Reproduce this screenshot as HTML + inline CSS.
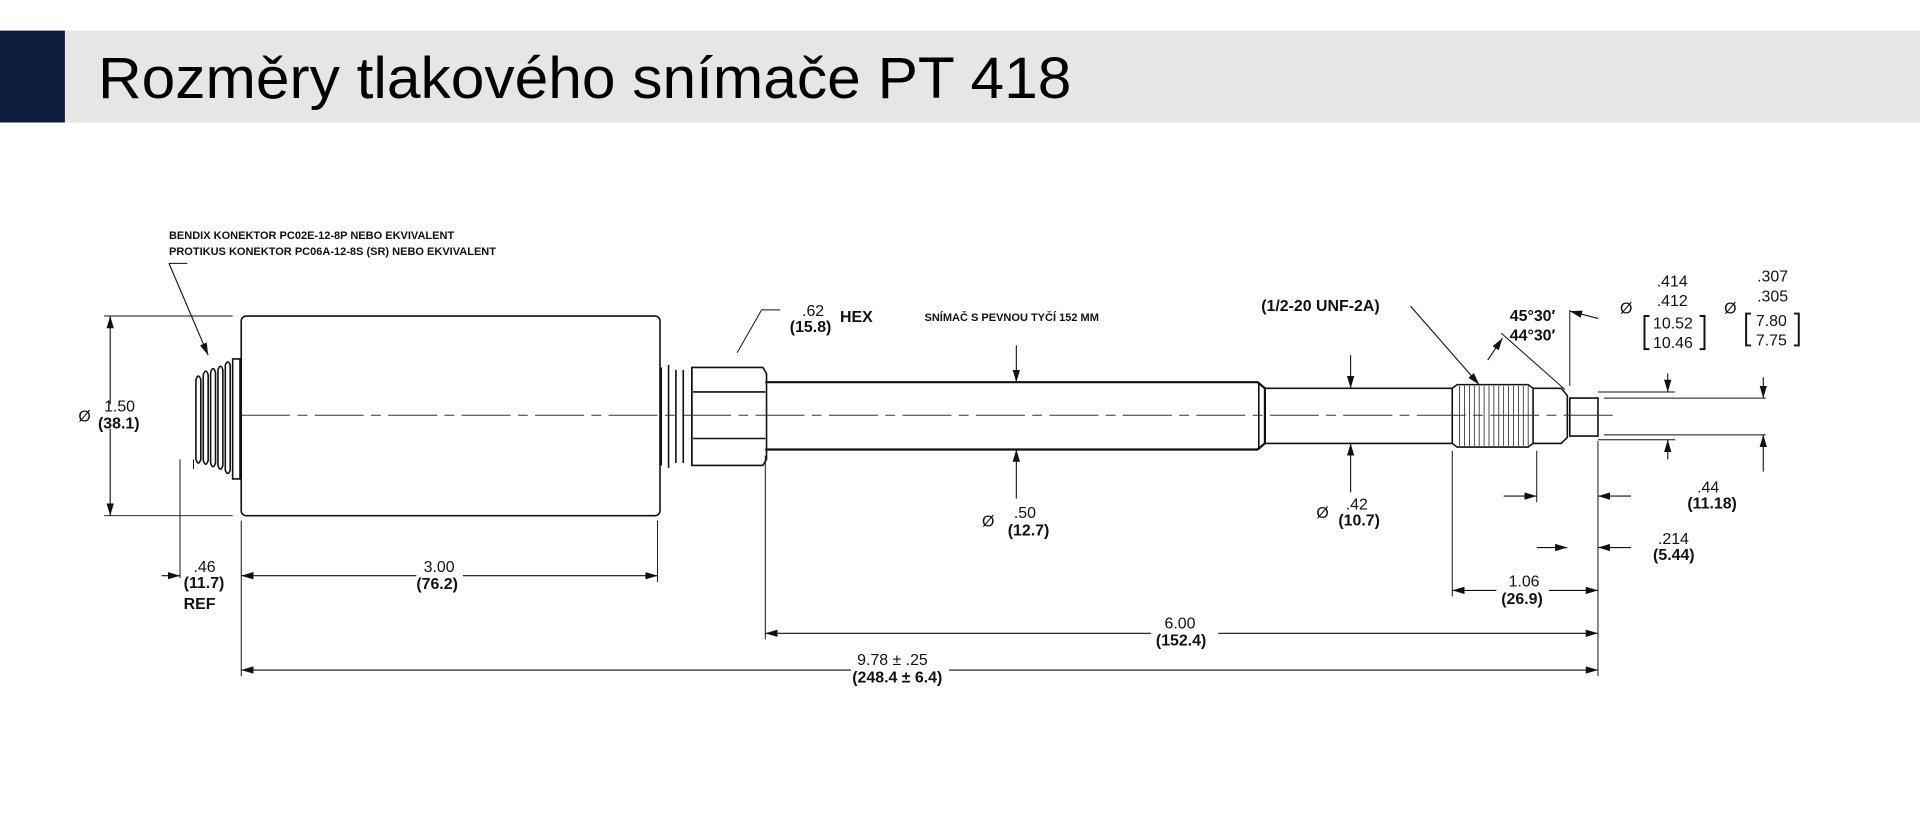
<!DOCTYPE html>
<html><head><meta charset="utf-8"><style>
html,body{margin:0;padding:0;background:#fff;width:1920px;height:817px;overflow:hidden}
svg{display:block}
text{font-family:"Liberation Sans",sans-serif;fill:#111}
.b{font-weight:bold}
</style></head><body>
<svg width="1920" height="817" viewBox="0 0 1568 667" preserveAspectRatio="none" xmlns="http://www.w3.org/2000/svg">
<defs>
<marker id="a" viewBox="0 0 10 6" refX="10" refY="3" markerWidth="10" markerHeight="6" markerUnits="userSpaceOnUse" orient="auto"><path d="M0,0 L10,3 L0,6 Z" fill="#111"/></marker>
</defs>
<rect x="0" y="25" width="1568" height="75" fill="#e6e6e6"/>
<rect x="0" y="25" width="53" height="75" fill="#0d1b3d"/>
<text x="80" y="80" font-size="48" textLength="795" lengthAdjust="spacingAndGlyphs" style="fill:#000">Rozměry tlakového snímače PT 418</text>

<g stroke="#111" fill="none" stroke-width="1.3">
<rect x="197" y="258" width="342" height="163" rx="4"/>
<!-- left connector coils -->
<path d="M160,310 q2,-6 4,0 v65 q-2,6 -4,0 z"/>
<path d="M166,306 q2,-6 4,0 v70 q-2,6 -4,0 z"/>
<path d="M172,304 q2,-6 4,0 v74 q-2,6 -4,0 z"/>
<path d="M178,302 q2,-6 4,0 v78 q-2,6 -4,0 z"/>
<path d="M184,298 q2,-5 4,0 v86 q-2,5 -4,0 z"/>
<path d="M190,293 h6 v98 h-6 z"/>
<path d="M540,300 v80 M546,298v84 M552,302v76 M558,302v76 M565,300v80"/>
<path d="M565,300 h58 l3,5 v70 l-3,5 h-58 z M566,320 h59 M566,358 h59"/>
<path d="M625,312 H1027 L1033,317 V362 L1027,367 H625" stroke-width="1.8"/>
<path d="M1028,312 v55"/>
<path d="M1033,317 H1186 M1033,362 H1186"/>
<path d="M1186,317 l4,-3 h58 l4,3 v45 l-4,3 h-58 l-4,-3 z"/>
<g stroke-width="0.6"><path d="M1192,315v49 M1196,315v49 M1200,315v49 M1204,315v49 M1208,315v49 M1212,315v49 M1216,315v49 M1220,315v49 M1224,315v49 M1228,315v49 M1232,315v49 M1236,315v49 M1240,315v49 M1244,315v49 M1248,315v49"/></g>
<path d="M1252,317 H1275 L1280,323 V357 L1275,362 H1252"/>
<path d="M1282,325 H1305 V356 H1282 Z"/>
</g>
<path d="M197,339 H1320" stroke="#333" stroke-width="0.8" stroke-dasharray="40,6,8,6" fill="none"/>

<g stroke="#111" stroke-width="0.8" fill="none">
<path d="M85,258 H190 M85,421 H190"/>
<path d="M147,375 V472 M158,375 v8"/>
<path d="M197,425 V552 M537,425 V475 M625,372 V522 M1186,368 V487 M1255,368 V410 M1305,360 V552"/>
<path d="M1282,315 V253"/>
<path d="M1305,320 H1368 M1305,359 H1368 M1310,325 H1442 M1310,355 H1442"/>
</g>
<g stroke="#111" stroke-width="0.9" fill="none" marker-end="url(#a)">
<path d="M90,330 V258"/><path d="M90,350 V421"/>
<path d="M132,470 H147"/>
<path d="M340,470 H197"/><path d="M378,470 H537"/>
<path d="M940,517 H625"/><path d="M995,517 H1305"/>
<path d="M695,547 H197"/><path d="M775,547 H1305"/>
<path d="M1222,482 H1186"/><path d="M1265,482 H1305"/>
<path d="M1228,405 H1255"/><path d="M1332,405 H1305"/>
<path d="M1255,447 H1280"/><path d="M1332,447 H1305"/>
<path d="M830,282 V312"/><path d="M830,407 V367"/>
<path d="M1103,290 V317"/><path d="M1103,402 V362"/>
<path d="M1362,305 V320"/><path d="M1362,375 V359"/>
<path d="M1440,308 V325"/><path d="M1440,385 V355"/>
<path d="M138,215 L170,290"/>
<path d="M1152,250 L1208,314"/>
<path d="M1215,294 L1227,276"/>
<path d="M1305,260 L1282,254"/>
</g>
<g stroke="#111" stroke-width="0.8" fill="none">
<path d="M138,215 H153"/>
<path d="M637,253 H622 L602,288"/>
<path d="M1226,272 L1278,318"/>
</g>

<g font-size="13">
<text x="64" y="344">Ø</text>
<text x="85" y="336">1.50</text>
<text x="80" y="350" class="b">(38.1)</text>
<text x="158" y="467">.46</text>
<text x="150" y="480" class="b">(11.7)</text>
<text x="150" y="497" class="b">REF</text>
<text x="346" y="467">3.00</text>
<text x="340" y="481" class="b">(76.2)</text>
<text x="951" y="513">6.00</text>
<text x="944" y="527" class="b">(152.4)</text>
<text x="700" y="543">9.78 ± .25</text>
<text x="696" y="557" class="b">(248.4 ± 6.4)</text>
<text x="1232" y="479">1.06</text>
<text x="1226" y="493" class="b">(26.9)</text>
<text x="1386" y="402">.44</text>
<text x="1378" y="415" class="b">(11.18)</text>
<text x="1354" y="444">.214</text>
<text x="1350" y="457" class="b">(5.44)</text>
<text x="802" y="430">Ø</text>
<text x="828" y="423">.50</text>
<text x="823" y="437" class="b">(12.7)</text>
<text x="1075" y="423">Ø</text>
<text x="1099" y="416">.42</text>
<text x="1093" y="429" class="b">(10.7)</text>
<text x="655" y="258">.62</text>
<text x="645" y="271" class="b">(15.8)</text>
<text x="686" y="263" class="b">HEX</text>
<text x="1030" y="254" class="b">(1/2-20 UNF-2A)</text>
<text x="1233" y="262" class="b">45°30′</text>
<text x="1233" y="278" class="b">44°30′</text>
<text x="1323" y="256">Ø</text>
<text x="1353" y="234">.414</text>
<text x="1353" y="250">.412</text>
<text x="1350" y="268">10.52</text>
<text x="1350" y="284">10.46</text>
<text x="1408" y="256">Ø</text>
<text x="1435" y="230">.307</text>
<text x="1435" y="246">.305</text>
<text x="1434" y="266">7.80</text>
<text x="1434" y="282">7.75</text>
</g>
<g stroke="#111" stroke-width="1.6" fill="none">
<path d="M1347,258 h-4 v27 h4 M1388,258 h4 v27 h-4"/>
<path d="M1430,256 h-4 v26 h4 M1465,256 h4 v26 h-4"/>
</g>
<g font-size="9">
<text x="138" y="195" class="b">BENDIX KONEKTOR PC02E-12-8P NEBO EKVIVALENT</text>
<text x="138" y="208" class="b">PROTIKUS KONEKTOR PC06A-12-8S (SR) NEBO EKVIVALENT</text>
<text x="755" y="262" class="b">SNÍMAČ S PEVNOU TYČÍ 152 MM</text>
</g>
</svg>
</body></html>
